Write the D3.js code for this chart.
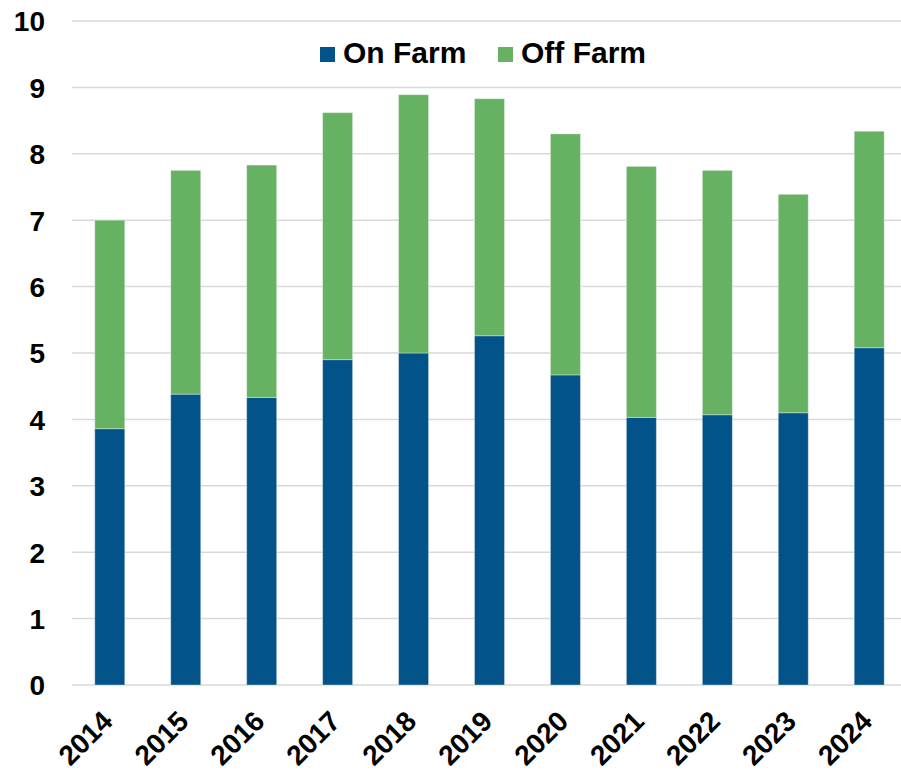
<!DOCTYPE html>
<html>
<head>
<meta charset="utf-8">
<script src="https://cdn.jsdelivr.net/npm/d3@7"></script>
<style>
  html, body { margin: 0; padding: 0; background: #fff; }
  svg { display: block; font-family: "Liberation Sans", Arial, sans-serif; }
</style>
</head>
<body>
<svg id="chart" width="901" height="772"></svg>
<script>
// Stacked bars: on-farm and off-farm components per year
const years = ["2014","2015","2016","2017","2018","2019","2020","2021","2022","2023","2024"];
const onFarm  = [3.86, 4.38, 4.33, 4.90, 5.00, 5.26, 4.67, 4.03, 4.07, 4.10, 5.08];
const offFarm = [3.14, 3.37, 3.50, 3.72, 3.89, 3.57, 3.63, 3.78, 3.68, 3.29, 3.26];
const seriesNames = ["On Farm", "Off Farm"];
const seriesColors = ["#02538a", "#66b262"];
const yTicks = [0, 1, 2, 3, 4, 5, 6, 7, 8, 9, 10];

const svg = d3.select("#chart");
const plot = { left: 72, right: 907, top: 21, bottom: 685 };

const x = d3.scaleBand().domain(years).range([plot.left, plot.right]).paddingInner(0.605).paddingOuter(0.3);
const y = d3.scaleLinear().domain([0, 10]).range([plot.bottom, plot.top]);

// gridlines
svg.append("g").selectAll("line").data(yTicks).join("line")
  .attr("x1", plot.left).attr("x2", plot.right)
  .attr("y1", d => y(d)).attr("y2", d => y(d))
  .attr("stroke", "#d9d9d9").attr("stroke-width", 1.5);

// y axis labels
const yAxis = d3.axisLeft(y).tickValues(yTicks).tickSize(0).tickPadding(27).tickFormat(d3.format("d"));
const gy = svg.append("g").attr("transform", `translate(${plot.left},0)`).call(yAxis);
gy.select(".domain").remove();
gy.selectAll("text")
  .attr("font-family", "'Liberation Sans', Arial, sans-serif")
  .attr("font-size", 28).attr("font-weight", "bold").attr("fill", "#000")
  .attr("dy", "0.35em");

// stacked data
const table = years.map((yr, i) => ({ year: yr, on: onFarm[i], off: offFarm[i] }));
const stack = d3.stack().keys(["on", "off"])(table);

svg.append("g").selectAll("g").data(stack).join("g")
  .attr("fill", (d, i) => seriesColors[i])
  .selectAll("rect").data(d => d).join("rect")
  .attr("x", d => x(d.data.year))
  .attr("width", x.bandwidth())
  .attr("y", d => y(d[1]))
  .attr("height", d => y(d[0]) - y(d[1]))
  .attr("stroke", "rgba(255,255,255,0.35)")
  .attr("stroke-width", 1);

// x axis labels, rotated
const xAxis = d3.axisBottom(x).tickSize(0).tickPadding(0);
const gx = svg.append("g").attr("transform", `translate(0,${plot.bottom})`).call(xAxis);
gx.select(".domain").remove();
gx.selectAll("text")
  .attr("font-family", "'Liberation Sans', Arial, sans-serif")
  .attr("font-size", 28).attr("font-weight", "bold").attr("fill", "#000")
  .attr("text-anchor", "end")
  .attr("dy", 0).attr("y", 0)
  .attr("transform", "translate(4.5,38) rotate(-45)");

// legend
const legendX = [320, 498];
const lg = svg.append("g").selectAll("g").data(seriesNames).join("g")
  .attr("transform", (d, i) => `translate(${legendX[i]},47)`);
lg.append("rect").attr("width", 15).attr("height", 15).attr("fill", (d, i) => seriesColors[i]);
lg.append("text").attr("x", 23).attr("y", 15.7)
  .attr("font-size", 30).attr("font-weight", "bold").attr("fill", "#000")
  .text(d => d);
</script>
</body>
</html>
